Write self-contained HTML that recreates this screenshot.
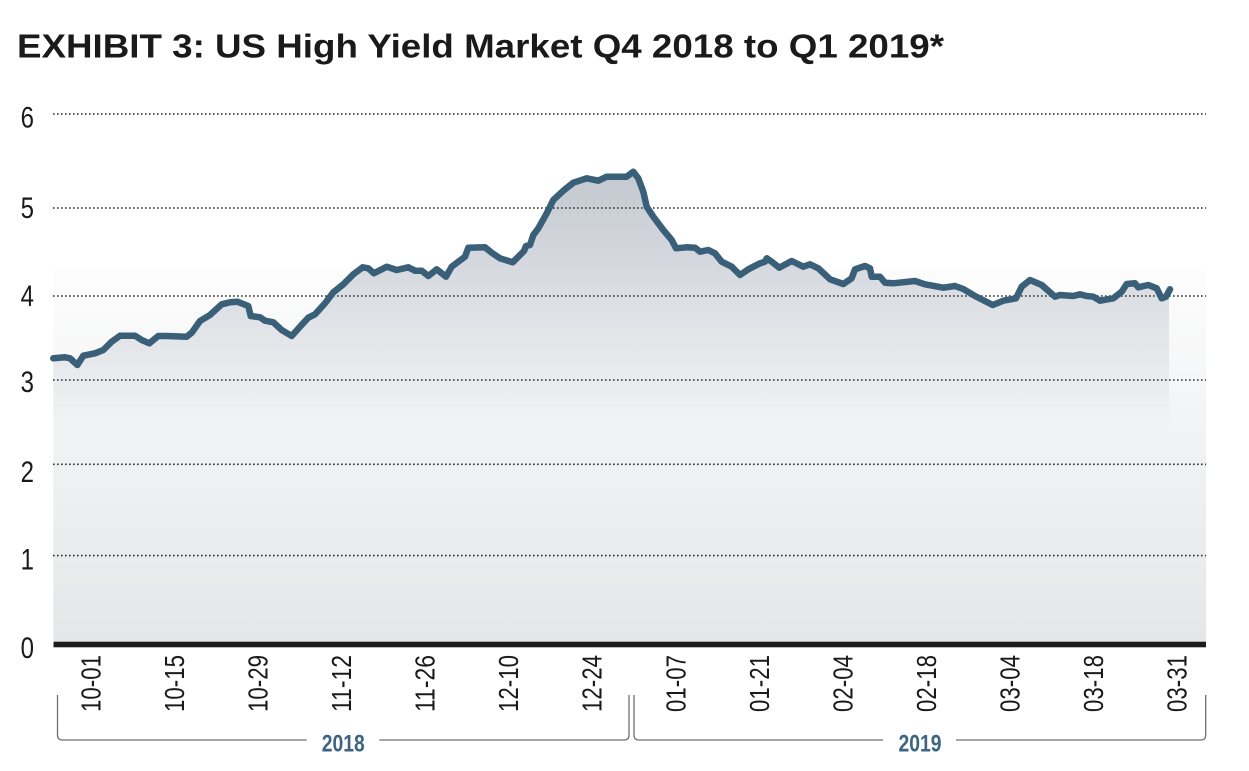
<!DOCTYPE html>
<html>
<head>
<meta charset="utf-8">
<style>
  html, body { margin: 0; padding: 0; background: #ffffff; }
  svg { display: block; }
</style>
</head>
<body>
<svg width="1249" height="771" viewBox="0 0 1249 771" xmlns="http://www.w3.org/2000/svg">
  <defs>
    <linearGradient id="bg" gradientUnits="userSpaceOnUse" x1="0" y1="268" x2="0" y2="642">
      <stop offset="0" stop-color="#fdfdfd"/>
      <stop offset="1" stop-color="#e4e6e9"/>
    </linearGradient>
    <linearGradient id="area" gradientUnits="userSpaceOnUse" x1="0" y1="172" x2="0" y2="642">
      <stop offset="0" stop-color="#c3c8d0"/>
      <stop offset="0.27" stop-color="#dcdfe4"/>
      <stop offset="0.55" stop-color="#f2f3f4"/>
      <stop offset="1" stop-color="#e4e6e9"/>
    </linearGradient>
  </defs>

  <!-- Title -->
  <text x="17" y="57.7" font-family="Liberation Sans, sans-serif" font-weight="bold" font-size="33" fill="#1a1a1a" textLength="927" lengthAdjust="spacingAndGlyphs">EXHIBIT 3: US High Yield Market Q4 2018 to Q1 2019*</text>

  <!-- background light panel -->
  <rect x="53.5" y="268" width="1152.5" height="374" fill="url(#bg)"/>

  <!-- area -->
  <polygon fill="url(#area)" points="53.3,358.3 65,357.3 70,358.3 77.3,365 83.3,355.7 95,353.3 103.3,350 111.7,341.7 120,335.7 135,335.7 141.7,340 149.3,343.3 158.3,336 166.7,336 186.7,336.7 191.7,332.7 200,321 210,315 221.7,304.3 230,302.3 237.3,301.7 248.3,306 250.7,316 260,317.3 265,320.7 273.3,322.3 281.7,330 291.7,336 300,326.7 308.3,317.7 315,314.3 325,303.3 333.3,292.3 343.3,284.3 353.3,274.3 362.7,267.3 368.3,268.3 374,273.3 386.7,266.7 396.7,270 408.3,267.3 415,270.7 421.7,270.7 428.3,276 436.7,269.3 446,276.7 451.7,266.7 458.3,261.7 465,256.7 468.3,247.7 485,247.3 491.7,252.7 500,258.3 512.7,262.3 524,251 526,246 530,245 533.3,235 538.3,228.3 546.7,213.3 553.3,200 563.3,190.7 573.3,182.7 586.7,178.3 598.3,180.7 606.7,176.7 626.7,176.7 633.3,171.7 638.3,178.3 643.3,191.7 646.7,206.7 653.3,216.7 663.3,230 671.7,240 676,248.3 686.7,247.3 695,247.7 700,251.7 708.3,250 715,253.3 721.7,261.7 731.7,266.7 740,275 748.3,269.3 760,263.3 765,261.7 766.7,258.3 771.7,261.7 779.3,267.7 791.7,261 803.3,266.7 810,264.3 818.3,268.3 830,279.3 843.3,284 851.7,278.3 855,269.3 865,266 870,268.3 871.7,276.7 880,276.7 885,282.7 893.3,283.3 915,281 925,284.3 943.3,287.7 955,286 963.3,289 975,296 992.7,305 1003.3,300.7 1016,298.3 1021.7,286.7 1030,280 1041.7,285 1055,296.7 1060,295 1073.3,296 1080,294.3 1086.7,296 1093.3,296.7 1100,300.7 1113.3,298.3 1121.7,291.7 1126.7,284 1135,283.3 1138.3,287.3 1148.3,285 1156.7,288.3 1161.7,298.3 1166,296.7 1169,290 1169,642 53.3,642"/>

  <!-- gridlines -->
  <g stroke="#2e2e2e" stroke-width="1.6" stroke-dasharray="1.6 2.4" fill="none">
    <line x1="53" y1="114" x2="1206" y2="114"/>
    <line x1="53" y1="208" x2="1206" y2="208"/>
    <line x1="53" y1="296" x2="1206" y2="296"/>
    <line x1="53" y1="380" x2="1206" y2="380"/>
    <line x1="53" y1="464.3" x2="1206" y2="464.3"/>
    <line x1="53" y1="555.6" x2="1206" y2="555.6"/>
  </g>

  <!-- data line -->
  <polyline fill="none" stroke="#3a5f79" stroke-width="6.5" stroke-linejoin="round" stroke-linecap="round" points="53.3,358.3 65,357.3 70,358.3 77.3,365 83.3,355.7 95,353.3 103.3,350 111.7,341.7 120,335.7 135,335.7 141.7,340 149.3,343.3 158.3,336 166.7,336 186.7,336.7 191.7,332.7 200,321 210,315 221.7,304.3 230,302.3 237.3,301.7 248.3,306 250.7,316 260,317.3 265,320.7 273.3,322.3 281.7,330 291.7,336 300,326.7 308.3,317.7 315,314.3 325,303.3 333.3,292.3 343.3,284.3 353.3,274.3 362.7,267.3 368.3,268.3 374,273.3 386.7,266.7 396.7,270 408.3,267.3 415,270.7 421.7,270.7 428.3,276 436.7,269.3 446,276.7 451.7,266.7 458.3,261.7 465,256.7 468.3,247.7 485,247.3 491.7,252.7 500,258.3 512.7,262.3 524,251 526,246 530,245 533.3,235 538.3,228.3 546.7,213.3 553.3,200 563.3,190.7 573.3,182.7 586.7,178.3 598.3,180.7 606.7,176.7 626.7,176.7 633.3,171.7 638.3,178.3 643.3,191.7 646.7,206.7 653.3,216.7 663.3,230 671.7,240 676,248.3 686.7,247.3 695,247.7 700,251.7 708.3,250 715,253.3 721.7,261.7 731.7,266.7 740,275 748.3,269.3 760,263.3 765,261.7 766.7,258.3 771.7,261.7 779.3,267.7 791.7,261 803.3,266.7 810,264.3 818.3,268.3 830,279.3 843.3,284 851.7,278.3 855,269.3 865,266 870,268.3 871.7,276.7 880,276.7 885,282.7 893.3,283.3 915,281 925,284.3 943.3,287.7 955,286 963.3,289 975,296 992.7,305 1003.3,300.7 1016,298.3 1021.7,286.7 1030,280 1041.7,285 1055,296.7 1060,295 1073.3,296 1080,294.3 1086.7,296 1093.3,296.7 1100,300.7 1113.3,298.3 1121.7,291.7 1126.7,284 1135,283.3 1138.3,287.3 1148.3,285 1156.7,288.3 1161.7,298.3 1166,296.7 1170,289.3"/>

  <!-- baseline -->
  <rect x="53.5" y="641.7" width="1152.5" height="5.6" fill="#1c1c1c"/>

  <!-- y labels -->
  <g font-family="Liberation Sans, sans-serif" font-size="30" fill="#1a1a1a" text-anchor="end">
    <text transform="translate(34,127.5) scale(0.8,1)">6</text>
    <text transform="translate(34,218) scale(0.8,1)">5</text>
    <text transform="translate(34,306) scale(0.8,1)">4</text>
    <text transform="translate(34,392) scale(0.8,1)">3</text>
    <text transform="translate(34,482) scale(0.8,1)">2</text>
    <text transform="translate(34,569.5) scale(0.8,1)">1</text>
    <text transform="translate(34,658) scale(0.8,1)">0</text>
  </g>

  <!-- x labels -->
  <g font-family="Liberation Sans, sans-serif" font-size="28" fill="#1a1a1a">
    <text transform="translate(100.5,712) rotate(-90)" textLength="57" lengthAdjust="spacingAndGlyphs">10-01</text>
    <text transform="translate(184,712) rotate(-90)" textLength="57" lengthAdjust="spacingAndGlyphs">10-15</text>
    <text transform="translate(267.6,712) rotate(-90)" textLength="57" lengthAdjust="spacingAndGlyphs">10-29</text>
    <text transform="translate(351.1,712) rotate(-90)" textLength="57" lengthAdjust="spacingAndGlyphs">11-12</text>
    <text transform="translate(434.7,712) rotate(-90)" textLength="57" lengthAdjust="spacingAndGlyphs">11-26</text>
    <text transform="translate(518.2,712) rotate(-90)" textLength="57" lengthAdjust="spacingAndGlyphs">12-10</text>
    <text transform="translate(601.7,712) rotate(-90)" textLength="57" lengthAdjust="spacingAndGlyphs">12-24</text>
    <text transform="translate(685.3,712) rotate(-90)" textLength="57" lengthAdjust="spacingAndGlyphs">01-07</text>
    <text transform="translate(768.8,712) rotate(-90)" textLength="57" lengthAdjust="spacingAndGlyphs">01-21</text>
    <text transform="translate(852.4,712) rotate(-90)" textLength="57" lengthAdjust="spacingAndGlyphs">02-04</text>
    <text transform="translate(935.9,712) rotate(-90)" textLength="57" lengthAdjust="spacingAndGlyphs">02-18</text>
    <text transform="translate(1019.4,712) rotate(-90)" textLength="57" lengthAdjust="spacingAndGlyphs">03-04</text>
    <text transform="translate(1103,712) rotate(-90)" textLength="57" lengthAdjust="spacingAndGlyphs">03-18</text>
    <text transform="translate(1186.5,712) rotate(-90)" textLength="57" lengthAdjust="spacingAndGlyphs">03-31</text>
  </g>

  <!-- brackets -->
  <g fill="none" stroke="#707070" stroke-width="1.3">
    <path d="M57.5,695 L57.5,735 Q57.5,740 62.5,740 L306.7,740"/>
    <path d="M379.3,740 L624,740 Q629,740 629,735 L629,695"/>
    <path d="M634,695 L634,735 Q634,740 639,740 L883,740"/>
    <path d="M956,740 L1200.7,740 Q1205.7,740 1205.7,735 L1205.7,695"/>
  </g>

  <!-- year labels -->
  <g font-family="Liberation Sans, sans-serif" font-weight="bold" font-size="24" fill="#3d6480">
    <text x="321.8" y="751.7" textLength="43" lengthAdjust="spacingAndGlyphs">2018</text>
    <text x="898.5" y="751.7" textLength="43" lengthAdjust="spacingAndGlyphs">2019</text>
  </g>
</svg>
</body>
</html>
